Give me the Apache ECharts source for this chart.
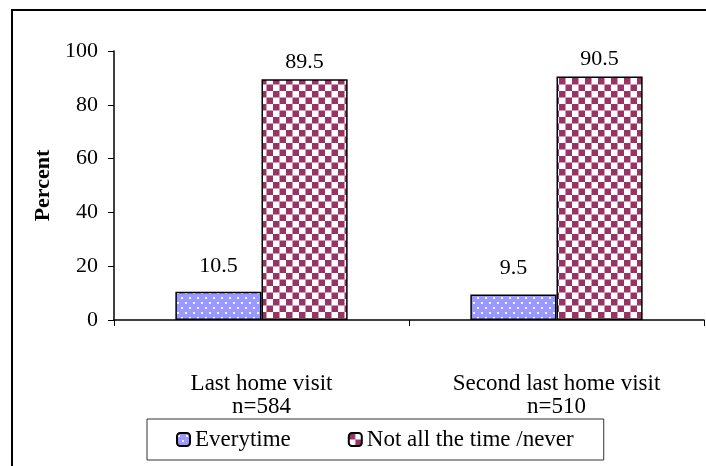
<!DOCTYPE html>
<html>
<head>
<meta charset="utf-8">
<script src="https://cdn.jsdelivr.net/npm/echarts@6/dist/echarts.min.js"></script>
<style>html,body{margin:0;padding:0;background:#fff;}#c{width:706px;height:466px;}</style>
</head>
<body>
<div id="c"></div>
<script>
var categories = ['Last home visit\nn=584', 'Second last home visit\nn=510'];
var everytime = [10.5, 9.5];
var notAllTime = [89.5, 90.5];
var yTicks = [0, 20, 40, 60, 80, 100];

function dotPattern() {
  var c = document.createElement('canvas');
  c.width = 8; c.height = 10;
  var g = c.getContext('2d');
  g.fillStyle = '#9999FF';
  g.fillRect(0, 0, 8, 10);
  g.fillStyle = '#F2F2FF';
  g.fillRect(1, 2, 2, 2);
  g.fillRect(5, 7, 2, 2);
  return c;
}
function checkPattern() {
  var c = document.createElement('canvas');
  c.width = 13; c.height = 13;
  var g = c.getContext('2d');
  g.fillStyle = '#ffffff';
  g.fillRect(0, 0, 13, 13);
  g.fillStyle = '#993366';
  g.fillRect(0, 0, 6.5, 6.5);
  g.fillRect(6.5, 6.5, 6.5, 6.5);
  return c;
}
var font = '"Liberation Serif", "Times New Roman", serif';
var chart = echarts.init(document.getElementById('c'));
chart.setOption({
  animation: false,
  backgroundColor: '#fff',
  textStyle: { fontFamily: font },
  graphic: [{
    type: 'rect', shape: { x: 12, y: 10, width: 900, height: 700 },
    style: { fill: 'none', stroke: '#000', lineWidth: 2 }, silent: true
  }],
  grid: { left: 114, right: 2, top: 51, bottom: 146 },
  legend: {
    left: 147, top: 419,
    padding: [9, 30, 9, 29],
    itemWidth: 13, itemHeight: 13, itemGap: 57, itemTextGap: 8,
    borderColor: '#333', borderWidth: 1,
    textStyle: { fontFamily: font, fontSize: 23, color: '#000' },
    data: [
      { name: 'Everytime', itemStyle: { color: { image: dotPattern(), repeat: 'repeat' }, borderColor: '#000', borderWidth: 2 } },
      { name: 'Not all the time /never', itemStyle: { color: { image: checkPattern(), repeat: 'repeat' }, borderColor: '#000', borderWidth: 2 } }
    ]
  },
  xAxis: {
    type: 'category', data: categories,
    axisLine: { lineStyle: { color: '#000', width: 1.5 } },
    axisTick: { show: true, inside: false, length: 6, alignWithLabel: false, lineStyle: { color: '#000' } },
    axisLabel: { color: '#000', fontSize: 23, lineHeight: 23, margin: 52, fontFamily: font }
  },
  yAxis: {
    type: 'value', min: yTicks[0], max: yTicks[yTicks.length - 1], interval: 20,
    name: 'Percent', nameLocation: 'middle', nameGap: 56, nameRotate: 90,
    nameTextStyle: { fontWeight: 'bold', fontSize: 22, color: '#000', fontFamily: font },
    splitLine: { show: false },
    axisLine: { show: true, lineStyle: { color: '#000', width: 1.5 } },
    axisTick: { show: true, inside: false, length: 6, lineStyle: { color: '#000' } },
    axisLabel: { color: '#000', fontSize: 22, margin: 16, fontFamily: font }
  },
  series: [
    {
      name: 'Everytime', type: 'bar', data: everytime,
      barWidth: '29.2%', barGap: '0%',
      itemStyle: { color: { image: dotPattern(), repeat: 'repeat' }, borderColor: '#000', borderWidth: 1.5 },
      label: { show: true, position: 'top', distance: 15, color: '#000', fontSize: 22, fontFamily: font }
    },
    {
      name: 'Not all the time /never', type: 'bar', data: notAllTime,
      barWidth: '29.2%', barGap: '0%',
      itemStyle: { color: { image: checkPattern(), repeat: 'repeat' }, borderColor: '#000', borderWidth: 1.5 },
      label: { show: true, position: 'top', distance: 6, color: '#000', fontSize: 22, fontFamily: font }
    }
  ]
});
</script>
</body>
</html>
